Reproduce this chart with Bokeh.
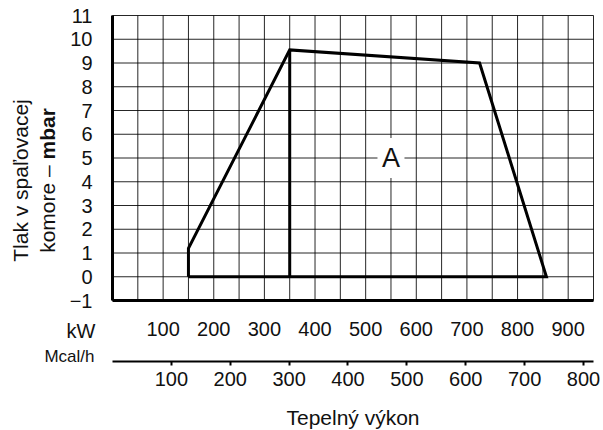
from math import pi
from bokeh.plotting import figure
from bokeh.models import Range1d, LinearAxis, FixedTicker
from bokeh.core.properties import value
from bokeh.embed import file_html
from bokeh.resources import INLINE

# ---------------- data ----------------
outline_kw = [150, 150, 350, 725, 857, 150]
outline_mbar = [0, 1.2, 9.55, 9.0, 0, 0]
divider_kw = [350, 350]
divider_mbar = [0, 9.55]
kw_ticks = [100, 200, 300, 400, 500, 600, 700, 800, 900]
mcal_ticks = [100, 200, 300, 400, 500, 600, 700, 800]
mbar_ticks = [-1, 0, 1, 2, 3, 4, 5, 6, 7, 8, 9, 10, 11]
grid_kw = list(range(0, 951, 50))
kw_min, kw_max = 0, 950
mbar_min, mbar_max = -1, 11
mcal_per_kw = 0.86
area_label = ["A"]
area_kw = [550]
area_mbar = [5]

FONT = "Liberation Sans"
TXT = "#111111"

# ---------------- page geometry ----------------
W, H = 600, 430
PX_L, PX_R, PX_T, PX_B = 112, 593, 15, 300      # edges of the gridded area
ppk = (PX_R - PX_L) / (kw_max - kw_min)          # px per kW
ppu = (PX_B - PX_T) / (mbar_max - mbar_min)      # px per mbar


def X(px):
    return kw_min + (px - PX_L) / ppk


def Y(py):
    return mbar_min + (PX_B - py) / ppu


p = figure(width=W, height=H,
           x_range=Range1d(X(0), X(W)), y_range=Range1d(Y(H), Y(0)),
           output_backend="svg", toolbar_location=None, min_border=0)
p.background_fill_color = "white"
p.border_fill_color = "white"
p.outline_line_color = None
p.xgrid.visible = False
p.ygrid.visible = False

# grid drawn over the chart area only
n_v = len(grid_kw)
n_h = len(mbar_ticks)
p.segment(x0=grid_kw, y0=[mbar_min] * n_v, x1=grid_kw, y1=[mbar_max] * n_v,
          line_color="black", line_alpha=0.85, line_width=1)
p.segment(x0=[kw_min] * n_h, y0=mbar_ticks, x1=[kw_max] * n_h, y1=mbar_ticks,
          line_color="black", line_alpha=0.85, line_width=1)

# y axis at kW = 0
ya = p.yaxis[0]
ya.fixed_location = kw_min
ya.bounds = (mbar_min, mbar_max)
ya.ticker = FixedTicker(ticks=mbar_ticks)
ya.major_label_overrides = {-1: "\u22121"}
ya.axis_line_width = 3
ya.axis_line_color = "black"
ya.major_tick_line_color = None
ya.minor_tick_line_color = None
ya.major_tick_out = 0
ya.major_tick_in = 0
ya.major_label_standoff = 20
ya.major_label_text_font = FONT
ya.major_label_text_font_size = "20px"
ya.major_label_text_color = TXT

# kW axis at mbar = -1
xa = p.xaxis[0]
xa.fixed_location = mbar_min
xa.bounds = (kw_min, kw_max)
xa.ticker = FixedTicker(ticks=kw_ticks)
xa.axis_line_width = 3
xa.axis_line_color = "black"
xa.major_tick_line_color = None
xa.minor_tick_line_color = None
xa.major_tick_out = 0
xa.major_tick_in = 0
xa.major_label_standoff = 21
xa.major_label_text_font = FONT
xa.major_label_text_font_size = "20px"
xa.major_label_text_color = TXT

# Mcal/h axis
p.extra_x_ranges = {"mcal": Range1d(X(0) * mcal_per_kw, X(W) * mcal_per_kw)}
ma = LinearAxis(x_range_name="mcal", ticker=FixedTicker(ticks=mcal_ticks))
ma.fixed_location = Y(361)
ma.bounds = (kw_min * mcal_per_kw, kw_max * mcal_per_kw)
ma.axis_line_width = 2
ma.axis_line_color = "black"
ma.major_tick_line_color = "black"
ma.major_tick_line_width = 2
ma.major_tick_out = 4
ma.major_tick_in = 0
ma.minor_tick_line_color = None
ma.major_label_standoff = 6
ma.major_label_text_font = FONT
ma.major_label_text_font_size = "20px"
ma.major_label_text_color = TXT
ma.axis_label = "Tepelný výkon"
ma.axis_label_text_font = FONT
ma.axis_label_text_font_style = "normal"
ma.axis_label_text_font_size = "21px"
ma.axis_label_text_color = TXT
ma.axis_label_standoff = 17
p.add_layout(ma, "below")

# data
p.line(outline_kw, outline_mbar, line_color="black", line_width=3, line_join="miter")
p.line(divider_kw, divider_mbar, line_color="black", line_width=3)

p.rect(x=area_kw, y=area_mbar, width=27, height=40, width_units="screen",
       height_units="screen", fill_color="white", line_color=None)
p.text(x=area_kw, y=area_mbar, text=area_label, text_font=value(FONT),
       text_font_size="27px", text_align="center", text_baseline="middle",
       text_color=TXT)

# unit labels
p.text(x=[X(95)], y=[Y(330)], text=["kW"], text_font=value(FONT), text_font_size="20px",
       text_align="right", text_baseline="middle", text_color=TXT)
p.text(x=[X(94)], y=[Y(356)], text=["Mcal/h"], text_font=value(FONT), text_font_size="17px",
       text_align="right", text_baseline="middle", text_color=TXT)

# y title: two rotated lines centred at the same height, "mbar" bold
YS = 21
title_mid = 180
w1 = 4.446 * YS
w2 = 2.445 * YS
start2 = title_mid + (w1 + w2) / 2
p.text(x=[X(20)], y=[Y(title_mid)], text=["Tlak v spaľovacej"], angle=pi / 2,
       text_font=value(FONT), text_font_size=f"{YS}px", text_align="center",
       text_baseline="middle", text_color=TXT)
p.text(x=[X(47)], y=[Y(start2)], text=["komore – "], angle=pi / 2,
       text_font=value(FONT), text_font_size=f"{YS}px", text_align="left",
       text_baseline="middle", text_color=TXT)
p.text(x=[X(47)], y=[Y(start2 - w1)], text=["mbar"], angle=pi / 2,
       text_font=value(FONT), text_font_size=f"{YS}px", text_font_style="bold",
       text_align="left", text_baseline="middle", text_color=TXT)

open("out.html", "w").write(file_html(p, INLINE))
